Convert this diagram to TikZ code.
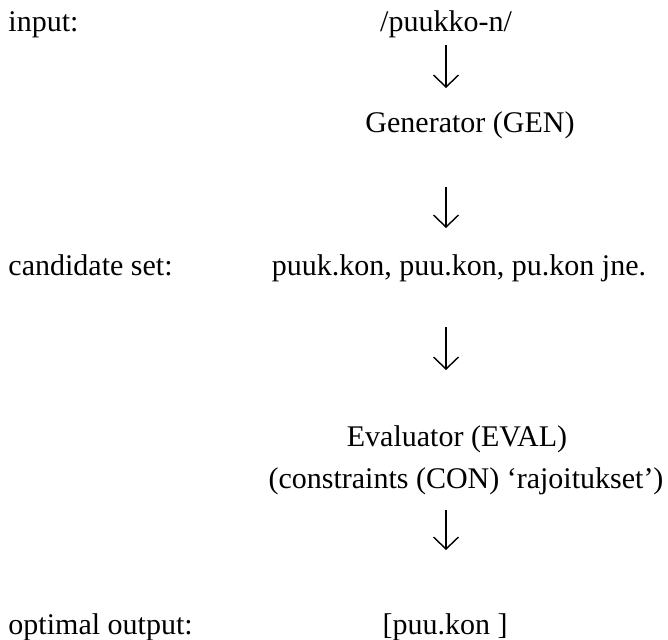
\documentclass[tikz,border=0pt]{standalone}
\usepackage{fontspec}
\setmainfont{Liberation Serif}
\usetikzlibrary{arrows.meta}
\begin{document}
\begin{tikzpicture}[x=1pt,y=-1pt,
  txt/.style={inner sep=0pt,outer sep=0pt,font=\fontsize{30}{34}\selectfont},
  lbl/.style={txt,anchor=base west},
  ctr/.style={txt,anchor=base},
  darrow/.style={line width=1.4pt,-{Straight Barb[length=12pt,width=25pt,line width=1.4pt]}}]
\useasboundingbox (0,0) rectangle (668,639);
% left labels
\node[lbl] (linput) at (8.5,32) {input:};
\node[lbl] (lcand) at (8.5,275) {candidate set:};
\node[lbl] (lopt) at (8.5,634) {optimal output:};
% right column
\node[ctr] (inp) at (446,32) {/puukko-n/};
\node[ctr] (gen) at (470,133) {Generator (GEN)};
\node[ctr] (cand) at (459,275) {puuk.kon, puu.kon, pu.kon jne.};
\node[ctr] (eval) at (457,446) {Evaluator (EVAL)};
\node[ctr] (con) at (466,488) {(constraints (CON) ‘rajoitukset’)};
\node[ctr] (out) at (445,634) {[puu.kon ]};
% arrows
\coordinate (a1s) at (446,45);  \coordinate (a1e) at (446,88);
\coordinate (a2s) at (446,187); \coordinate (a2e) at (446,228);
\coordinate (a3s) at (446,327); \coordinate (a3e) at (446,370);
\coordinate (a4s) at (446,510); \coordinate (a4e) at (446,550);
\draw[darrow] (a1s) -- (a1e);
\draw[darrow] (a2s) -- (a2e);
\draw[darrow] (a3s) -- (a3e);
\draw[darrow] (a4s) -- (a4e);
\end{tikzpicture}
\end{document}
